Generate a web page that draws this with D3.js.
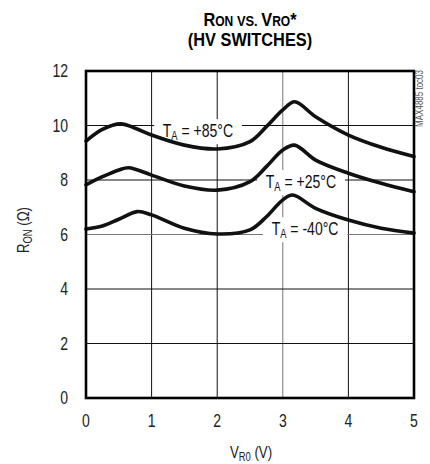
<!DOCTYPE html>
<html>
<head>
<meta charset="utf-8">
<script src="https://cdn.jsdelivr.net/npm/d3@7"></script>
<style>
  body { margin: 0; background: #fff; }
  svg { font-family: "Liberation Sans", Arial, sans-serif; }
</style>
</head>
<body>
<svg id="chart"></svg>
<script>
// values
const xTicks = [0, 1, 2, 3, 4, 5];
const yTicks = [0, 2, 4, 6, 8, 10, 12];
const vro = [0, 0.25, 0.53, 0.75, 1, 1.5, 2, 2.5, 2.75, 3, 3.18, 3.5, 4, 4.5, 5];
const ron85 = [9.43, 9.86, 10.06, 9.9, 9.65, 9.28, 9.14, 9.41, 9.96, 10.57, 10.87, 10.32, 9.65, 9.2, 8.86];
const vro25 = [0, 0.25, 0.5, 0.65, 1, 1.5, 2, 2.5, 2.75, 3, 3.18, 3.5, 4, 4.5, 5];
const ron25 = [7.82, 8.12, 8.37, 8.45, 8.18, 7.78, 7.63, 7.94, 8.49, 9.1, 9.28, 8.73, 8.25, 7.88, 7.57];
const vroM40 = [0, 0.25, 0.5, 0.78, 1, 1.5, 2, 2.5, 2.75, 3, 3.15, 3.5, 4, 4.5, 5];
const ronM40 = [6.2, 6.31, 6.56, 6.84, 6.72, 6.23, 6.02, 6.17, 6.65, 7.27, 7.45, 6.96, 6.53, 6.23, 6.05];
const labels = [
  { t: "+85°C", x: 1.17, y: 9.58 },
  { t: "+25°C", x: 2.74, y: 7.71 },
  { t: "-40°C", x: 2.83, y: 5.98 }
];

const width = 430, height = 464;
const margin = { top: 71, right: 16, bottom: 66, left: 86 };
const NARROW = 0.78;

const svg = d3.select("#chart").attr("width", width).attr("height", height);

const x = d3.scaleLinear().domain([0, 5]).range([margin.left, width - margin.right]);
const y = d3.scaleLinear().domain([0, 12]).range([height - margin.bottom, margin.top]);

// condensed text: no narrow font installed, so squeeze a normal one
function narrowText(parent, px, py, size, sx, rot) {
    return parent.append("g")
        .attr("transform", `translate(${px},${py})` + (rot ? ` rotate(${rot})` : "") + ` scale(${sx},1)`)
        .append("text")
        .attr("font-size", size);
}

// title
const title = narrowText(svg, 250, 26, 19, 0.86)
    .attr("text-anchor", "middle")
    .attr("font-weight", "bold");
title.append("tspan").text("R");
title.append("tspan").attr("font-size", 14).text("ON");
title.append("tspan").attr("font-size", 15).text(" VS. ");
title.append("tspan").text("V");
title.append("tspan").attr("font-size", 14).text("RO");
title.append("tspan").text("*");
narrowText(svg, 250, 46, 19, 0.86)
    .attr("text-anchor", "middle")
    .attr("font-weight", "bold")
    .text("(HV SWITCHES)");

// grid
svg.append("g").selectAll("line")
    .data(xTicks.slice(1, -1))
    .enter().append("line")
    .attr("x1", d => x(d)).attr("x2", d => x(d))
    .attr("y1", y(0)).attr("y2", y(12))
    .attr("stroke", d => d === 3 ? "#777" : "#111")
    .attr("stroke-width", 1);
svg.append("g").selectAll("line")
    .data(yTicks.slice(1, -1))
    .enter().append("line")
    .attr("x1", x(0)).attr("x2", x(5))
    .attr("y1", d => y(d)).attr("y2", d => y(d))
    .attr("stroke", d => d === 6 ? "#777" : "#111")
    .attr("stroke-width", 1);

// label boxes over the grid
labels.forEach(function (l) {
    const txt = narrowText(svg, x(l.x), y(l.y), 18, NARROW).attr("fill", "#111");
    txt.append("tspan").text("T");
    txt.append("tspan").attr("font-size", 12).attr("dy", 3).text("A");
    txt.append("tspan").attr("dy", -3).text(" = " + l.t);
    const bb = txt.node().getBBox();
    d3.select(txt.node().parentNode).insert("rect", "text")
        .attr("x", bb.x - 11).attr("y", bb.y - 1)
        .attr("width", bb.width + 22).attr("height", bb.height + 3)
        .attr("fill", "#fff");
});

// curves
const line = d3.line()
    .x(d => x(d[0]))
    .y(d => y(d[1]))
    .curve(d3.curveCatmullRom.alpha(0.5));
const series = [d3.zip(vro, ron85), d3.zip(vro25, ron25), d3.zip(vroM40, ronM40)];
svg.append("g").selectAll("path")
    .data(series)
    .enter().append("path")
    .attr("d", line)
    .attr("fill", "none")
    .attr("stroke", "#111")
    .attr("stroke-width", 3.6)
    .attr("stroke-linecap", "round");

// frame
svg.append("rect")
    .attr("x", x(0)).attr("y", y(12))
    .attr("width", x(5) - x(0)).attr("height", y(0) - y(12))
    .attr("fill", "none")
    .attr("stroke", "#000")
    .attr("stroke-width", 2.6);

// tick labels
xTicks.forEach(function (d) {
    narrowText(svg, x(d), y(0) + 29, 18, NARROW)
        .attr("text-anchor", "middle")
        .attr("fill", "#222")
        .text(d);
});
yTicks.forEach(function (d) {
    narrowText(svg, x(0) - 18, y(d) + 6, 18, NARROW)
        .attr("text-anchor", "end")
        .attr("fill", "#222")
        .text(d);
});

// axis titles
const xl = narrowText(svg, 251, 458, 17, NARROW)
    .attr("text-anchor", "middle")
    .attr("fill", "#222");
xl.append("tspan").text("V");
xl.append("tspan").attr("font-size", 12).attr("dy", 3).text("R0");
xl.append("tspan").attr("dy", -3).text(" (V)");

const yl = narrowText(svg, 29, 230, 17, NARROW, -90)
    .attr("text-anchor", "middle")
    .attr("fill", "#222");
yl.append("tspan").text("R");
yl.append("tspan").attr("font-size", 12).attr("dy", 3).text("ON");
yl.append("tspan").attr("dy", -3).text(" (Ω)");

narrowText(svg, 423, 70, 10, 0.8, -90)
    .attr("text-anchor", "end")
    .attr("fill", "#555")
    .text("MAX4885 toc03");
</script>
</body>
</html>
